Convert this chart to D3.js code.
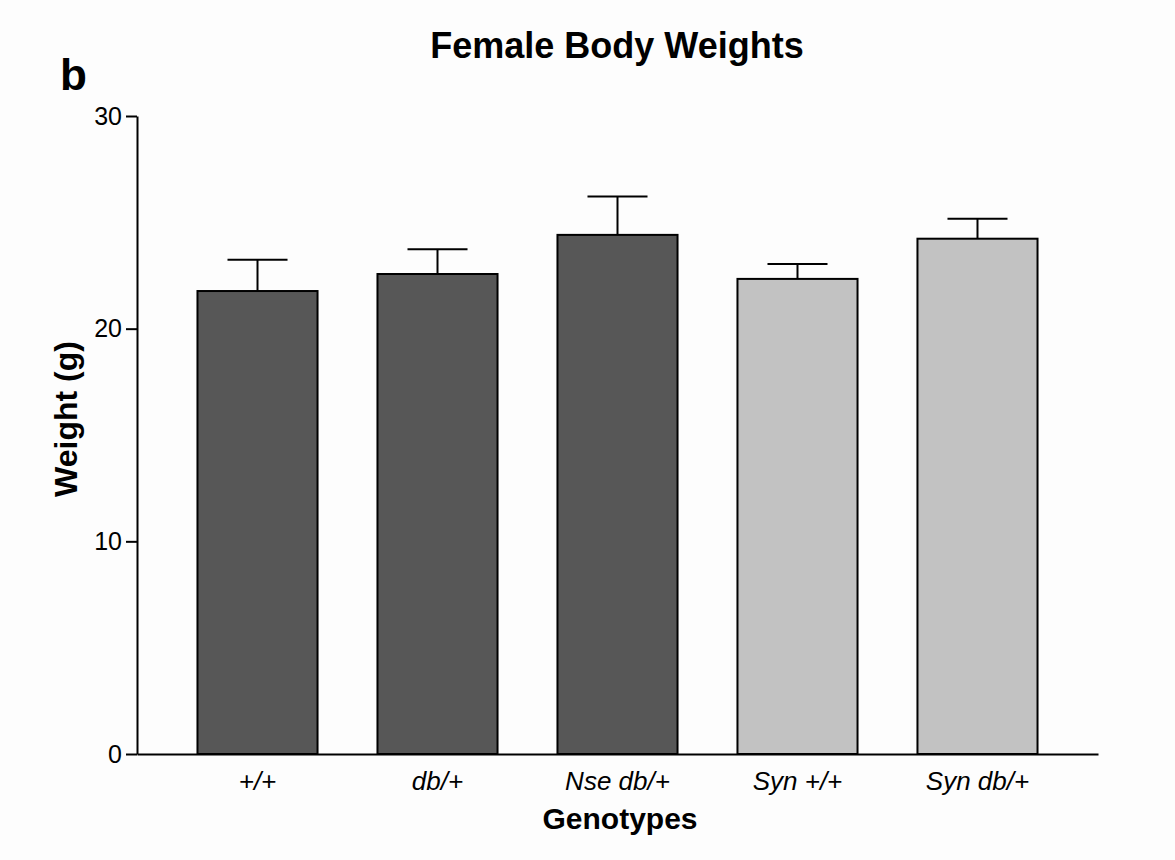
<!DOCTYPE html>
<html>
<head>
<meta charset="utf-8">
<script src="https://cdn.jsdelivr.net/npm/d3@7"></script>
<style>
  body { margin: 0; background: #fdfdfd; }
  text { font-family: "Liberation Sans", Arial, sans-serif; fill: #000; }
</style>
</head>
<body>
<script>
let genotypes = ["+/+", "db/+", "Nse db/+", "Syn +/+", "Syn db/+"];
let weights = [21.77, 22.57, 24.41, 22.34, 24.23];
let sem = [1.47, 1.16, 1.80, 0.70, 0.94];
let groups = ["Nse", "Nse", "Nse", "Syn", "Syn"];
let yTicks = [0, 10, 20, 30];

let svg = d3.select("body").append("svg")
    .attr("width", 1175)
    .attr("height", 860);

let x = d3.scaleBand()
    .domain(genotypes)
    .range([137, 1098])
    .paddingInner(0.333)
    .paddingOuter(0.336);

let y = d3.scaleLinear()
    .domain([0, 30])
    .range([754, 116]);

let color = d3.scaleOrdinal()
    .domain(["Nse", "Syn"])
    .range(["#575757", "#c2c2c2"]);

// error bars first so the bar outline covers the stem start
let err = svg.append("g").selectAll("g")
    .data(genotypes)
    .enter().append("g");

err.append("line")
    .attr("x1", function (d) { return x(d) + x.bandwidth() / 2 })
    .attr("x2", function (d) { return x(d) + x.bandwidth() / 2 })
    .attr("y1", function (d, i) { return y(weights[i]) })
    .attr("y2", function (d, i) { return y(weights[i] + sem[i]) })
    .attr("stroke", "#000").attr("stroke-width", 2);

err.append("line")
    .attr("x1", function (d) { return x(d) + x.bandwidth() / 4 })
    .attr("x2", function (d) { return x(d) + x.bandwidth() * 3 / 4 })
    .attr("y1", function (d, i) { return y(weights[i] + sem[i]) })
    .attr("y2", function (d, i) { return y(weights[i] + sem[i]) })
    .attr("stroke", "#000").attr("stroke-width", 2);

// bars
svg.append("g").selectAll("rect")
    .data(genotypes)
    .enter().append("rect")
    .attr("x", function (d) { return x(d) })
    .attr("width", x.bandwidth())
    .attr("y", function (d, i) { return y(weights[i]) })
    .attr("height", function (d, i) { return y(0) - y(weights[i]) })
    .attr("fill", function (d, i) { return color(groups[i]) })
    .attr("stroke", "#000")
    .attr("stroke-width", 2);

// axes
let yAxis = svg.append("g")
    .attr("transform", "translate(137,0)")
    .call(d3.axisLeft(y).tickValues(yTicks).tickSize(11).tickSizeOuter(0).tickPadding(4));
yAxis.select(".domain").attr("stroke-width", 2);
yAxis.selectAll(".tick line").attr("stroke-width", 2);
yAxis.selectAll("text").attr("font-size", 25).style("font-family", "Liberation Sans");

let xAxis = svg.append("g")
    .attr("transform", "translate(0,754)")
    .call(d3.axisBottom(x).tickSize(0).tickSizeOuter(0).tickPadding(18));
xAxis.select(".domain").attr("stroke-width", 2);
xAxis.selectAll("text")
    .attr("font-size", 26)
    .attr("font-style", "italic")
    .style("font-family", "Liberation Sans");

// titles
svg.append("text")
    .attr("x", 617).attr("y", 58)
    .attr("text-anchor", "middle")
    .attr("font-size", 36).attr("font-weight", "bold")
    .text("Female Body Weights");

svg.append("text")
    .attr("x", 60).attr("y", 90)
    .attr("font-size", 44).attr("font-weight", "bold")
    .text("b");

svg.append("text")
    .attr("transform", "translate(77,419) rotate(-90)")
    .attr("text-anchor", "middle")
    .attr("font-size", 32).attr("font-weight", "bold")
    .text("Weight (g)");

svg.append("text")
    .attr("x", 620).attr("y", 829)
    .attr("text-anchor", "middle")
    .attr("font-size", 30).attr("font-weight", "bold")
    .text("Genotypes");
</script>
</body>
</html>
